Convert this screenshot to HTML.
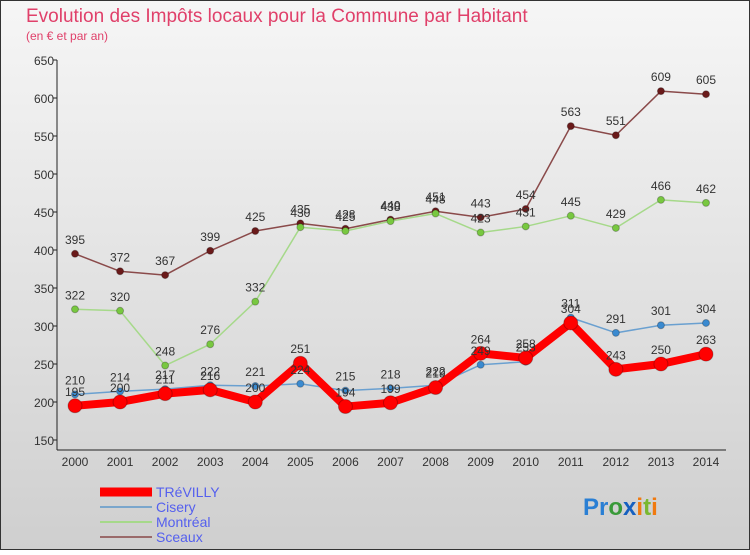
<!DOCTYPE html>
<html><head><meta charset="utf-8"><style>
body{margin:0;width:750px;height:550px;overflow:hidden;font-family:"Liberation Sans",sans-serif}
</style></head><body>
<svg id="c" width="750" height="550" xmlns="http://www.w3.org/2000/svg">
<defs><linearGradient id="bg" x1="0" y1="0" x2="0" y2="1"><stop offset="0" stop-color="#f6f6f6"/><stop offset="1" stop-color="#cfcfcf"/></linearGradient></defs>
<rect x="0.5" y="0.5" width="749" height="549" fill="url(#bg)" stroke="#333"/>
<text x="26" y="22" font-size="19" fill="#e0406a">Evolution des Impôts locaux pour la Commune par Habitant</text>
<text x="26" y="40" font-size="12" fill="#e0406a">(en € et par an)</text>
<g id="grid"></g><g id="axes"></g><g id="series"></g><g id="labels"></g>
<g>
<line x1="100" y1="492" x2="152" y2="492" stroke="#f00" stroke-width="9"/>
<text x="156" y="497" font-size="14" fill="#5560ee">TRéVILLY</text>
<line x1="100" y1="507" x2="152" y2="507" stroke="#7aa6cc" stroke-width="2"/>
<text x="156" y="512" font-size="14" fill="#5560ee">Cisery</text>
<line x1="100" y1="522" x2="152" y2="522" stroke="#a6d98a" stroke-width="2"/>
<text x="156" y="527" font-size="14" fill="#5560ee">Montréal</text>
<line x1="100" y1="537" x2="152" y2="537" stroke="#9a6a6a" stroke-width="2"/>
<text x="156" y="542" font-size="14" fill="#5560ee">Sceaux</text>
</g>
<text x="583" y="515" font-size="24" font-weight="bold"><tspan fill="#2a7fd4">Pr</tspan><tspan fill="#3a9a3a">o</tspan><tspan fill="#1560c0">x</tspan><tspan fill="#f07a10">i</tspan><tspan fill="#7ab830">t</tspan><tspan fill="#f07a10">i</tspan></text>
</svg>
<script>
const years=["2000","2001","2002","2003","2004","2005","2006","2007","2008","2009","2010","2011","2012","2013","2014"];
const yTicks=[150,200,250,300,350,400,450,500,550,600,650];
const trevilly=[195,200,211,216,200,251,194,199,219,264,258,304,243,250,263];
const cisery=[210,214,217,222,221,224,215,218,222,249,253,311,291,301,304];
const montreal=[322,320,248,276,332,430,425,438,448,423,431,445,429,466,462];
const sceaux=[395,372,367,399,425,435,428,440,451,443,454,563,551,609,605];
const NS="http://www.w3.org/2000/svg";
const X0=75,X1=706,Y0=440,Y1=60,VMIN=150,VMAX=650;
const xs=i=>X0+i*(X1-X0)/(years.length-1);
const ys=v=>Y0-(v-VMIN)*(Y0-Y1)/(VMAX-VMIN);
function mk(tag,attrs,parent){const e=document.createElementNS(NS,tag);for(const k in attrs)e.setAttribute(k,attrs[k]);document.getElementById(parent).appendChild(e);return e;}
yTicks.forEach(t=>{
 const g=mk('line',{x1:X0-22,x2:X0-18,y1:ys(t),y2:ys(t),stroke:'#222'},'axes');
 
 
 const l=mk('text',{x:X0-21,y:ys(t)+5,'font-size':12,fill:'#333','text-anchor':'end'},'axes');l.textContent=t;
 
 
});
const ya=mk('line',{x1:X0-18,x2:X0-18,y1:Y1,y2:Y0+10,stroke:'#222'},'axes');


const xa=mk('line',{x1:X0-18,x2:X1+20,y1:Y0+10,y2:Y0+10,stroke:'#222'},'axes');


years.forEach((y,i)=>{
 const l=mk('text',{x:xs(i),y:Y0+26,'font-size':12,fill:'#333','text-anchor':'middle'},'axes');l.textContent=y;
 
 
});
function series(data,color,dot,w,r,name){
 const p=mk('polyline',{points:data.map((v,i)=>xs(i)+','+ys(v)).join(' '),fill:'none',stroke:color,'stroke-width':w,'stroke-linejoin':'round'},'series');
 
 
 data.forEach((v,i)=>{
  const c=mk('circle',{cx:xs(i),cy:ys(v),r:r,fill:dot,stroke:'rgba(0,0,0,0.25)'},'series');
  
  
  const t=mk('text',{x:xs(i),y:ys(v)-10,'font-size':12,fill:'#333','text-anchor':'middle'},'labels');t.textContent=v;
  
  
 });
}
series(sceaux,'#8a4a4a','#6a1a1a',1.5,3.5,'sceaux');
series(montreal,'#a6d98a','#78c840',1.5,3.5,'montreal');
series(cisery,'#6aa0d0','#3a8ad0',1.5,3.5,'cisery');
series(trevilly,'#f00','#f00',8,7,'trevilly');
</script>
</body></html>
